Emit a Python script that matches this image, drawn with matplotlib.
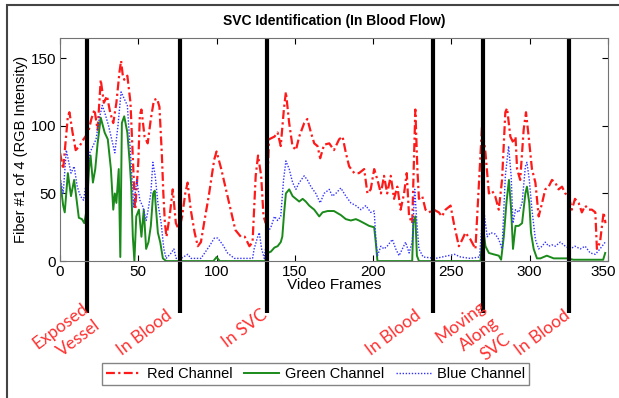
import matplotlib
matplotlib.use("Agg")
import matplotlib.pyplot as plt
import matplotlib.transforms as mtransforms
from matplotlib.patches import Rectangle

#red channel (frame, intensity)
red_x = [0, 2, 5, 6, 8, 10, 12.5, 15, 18, 20, 22, 24, 26, 28, 30, 32, 34, 36, 38, 39, 40, 41, 43, 45, 46, 47, 48, 50, 51, 52, 54, 56, 58, 60, 62, 63.5, 65, 66, 67, 68, 70, 72, 74, 76, 78, 80, 81.5, 83.5, 86, 88, 90, 92, 95, 98.5, 100, 103, 106, 109, 112, 115.5, 118, 121, 123, 125, 126.5, 128.5, 130, 131.5, 133.5, 137, 139, 141, 143, 144.3, 146.4, 148.5, 150.7, 152.8, 156, 158, 160.3, 162.4, 164.5, 166.2, 168.7, 172, 175, 178.3, 180.5, 182.6, 184.7, 188, 191, 194.3, 196.4, 198.5, 200.7, 202.8, 205, 207, 209, 211.3, 213.4, 215.5, 217.6, 219.8, 221.5, 223, 225, 227, 228.3, 229.3, 231.4, 233.5, 235.6, 238.8, 242, 244, 246.3, 249.5, 251.6, 254.8, 257, 259, 262.2, 265.4, 267.5, 269.6, 271.8, 274, 276, 278, 280.3, 282.4, 284.5, 285.6, 287.7, 289.8, 291, 292, 294, 296.2, 297.7, 299.4, 301.5, 303.7, 305.8, 308, 310, 312.2, 314.3, 316.4, 318.5, 320.7, 322.8, 325, 327, 329, 331.3, 333.4, 335.5, 337.7, 339.8, 342, 343, 345, 347.3, 348.5]
red_y = [80, 68, 107, 110, 95, 82, 85, 90, 95, 105, 112, 97, 134, 117, 122, 110, 102, 117, 140, 148, 138, 134, 137, 117, 90, 63, 38, 73, 108, 112, 92, 87, 105, 119, 120, 114, 80, 50, 28, 18, 33, 53, 28, 23, 33, 50, 58, 38, 21, 11, 14, 28, 48, 75, 81, 68, 53, 38, 23, 18, 18, 11, 14, 63, 78, 63, 33, 28, 90, 92, 95, 85, 112, 125, 102, 85, 82, 92, 102, 105, 95, 87, 85, 76, 86, 87, 82, 90, 92, 80, 70, 65, 65, 68, 50, 53, 68, 60, 50, 63, 50, 63, 46, 55, 38, 50, 65, 33, 28, 112, 68, 46, 48, 38, 36, 38, 36, 33, 38, 41, 28, 11, 16, 21, 16, 9, 55, 100, 80, 50, 52, 48, 38, 60, 110, 113, 92, 87, 92, 68, 60, 97, 110, 92, 68, 58, 33, 43, 53, 55, 60, 58, 53, 55, 50, 48, 38, 46, 43, 36, 41, 38, 38, 36, 9, 14, 36, 28]

#green channel
green_x = [0, 2, 3, 5, 7, 9, 10.5, 12, 14, 15.5, 17, 18.5, 19.5, 21, 22.5, 24, 26, 28.5, 30.5, 32.5, 34, 35, 36, 37.5, 38.5, 39.5, 41, 43, 44.5, 45.5, 46.5, 47.5, 48.7, 50.4, 52, 53.5, 55, 56.5, 58, 59.5, 60.5, 61, 62.5, 64, 65.7, 67.8, 98, 100, 102, 131, 132.6, 134.7, 137, 139, 141, 142, 143.2, 144.3, 146.4, 148.6, 150.7, 152.8, 155, 157, 159.2, 162.4, 165.6, 167.7, 171, 175, 179.4, 182.6, 185.8, 189, 191, 194.3, 197.5, 200.7, 201.7, 202.8, 225, 225.7, 227, 228, 229.3, 268.6, 269.6, 270.7, 271.8, 274, 277, 280.3, 281.8, 283.5, 285.2, 286.8, 288.2, 289.4, 291, 293, 295.2, 297.3, 298.3, 299.8, 300.9, 302.6, 304.7, 306.9, 311, 315.4, 319.6, 323.9, 328, 347, 348.3]
green_y = [60, 41, 36, 65, 48, 60, 46, 32, 31, 28, 38, 68, 78, 58, 68, 87, 106, 95, 90, 68, 38, 50, 43, 68, 3, 102, 107, 95, 73, 55, 18, 0, 33, 38, 18, 38, 9, 14, 26, 50, 52, 43, 21, 14, 2, 0, 0, 3, 0, 0, 6, 7, 10, 11, 14, 18, 36, 50, 53, 48, 46, 44, 46, 44, 41, 38, 33, 36, 37, 37, 34, 31, 30, 31, 30, 28, 26, 25, 14, 0, 0, 28, 33, 4, 0, 0, 14, 21, 11, 6, 5, 4, 1, 18, 43, 60, 38, 9, 26, 26, 28, 50, 55, 43, 21, 9, 2, 2, 4, 2, 2, 2, 1, 1, 6]

#blue channel
blue_x = [0, 2, 4, 7, 9, 11, 13, 15, 17, 19, 21, 23, 25, 27, 29, 31, 33, 35, 37, 39, 41, 43, 45, 47, 49, 51, 53, 55, 56, 58, 59.3, 60.8, 62.5, 64.6, 66.3, 67.8, 71, 72.7, 74.2, 77.4, 81.6, 83.7, 90, 95.4, 98.6, 100.7, 104, 107, 111.4, 115.6, 123, 124, 126.3, 127.3, 128.8, 130.5, 132.6, 134.7, 137, 139, 141, 142.8, 144.3, 146.4, 148.6, 150.7, 152.8, 156, 158, 160.3, 163.4, 166.2, 168.7, 172, 174, 176.2, 179.4, 182.6, 185.8, 189, 192.2, 195.4, 198.5, 200.7, 201.7, 202.8, 205, 207, 209, 212.3, 214.5, 216.6, 218.7, 220.8, 223, 225, 226.6, 228, 229.3, 232, 240, 248, 252, 256, 262, 268, 269.6, 270.7, 272.9, 275, 278, 280.3, 282.4, 284.5, 286.6, 288.2, 289.4, 291, 293, 295.2, 297.3, 298.3, 299.8, 301.5, 303.7, 305.8, 308, 310, 312.2, 314.3, 316.4, 319.6, 322.8, 326, 329, 332.4, 335.5, 338.7, 342, 345, 348.3]
blue_y = [62, 50, 82, 65, 70, 55, 48, 45, 60, 80, 85, 90, 105, 115, 108, 100, 90, 80, 100, 125, 120, 115, 80, 40, 60, 45, 40, 30, 36, 50, 73, 63, 43, 28, 9, 2, 6, 9, 2, 2, 5, 2, 2, 11, 17, 17, 12, 6, 2, 2, 2, 9, 18, 21, 9, 2, 21, 25, 33, 30, 33, 60, 74, 68, 58, 53, 58, 63, 60, 55, 50, 43, 50, 53, 48, 50, 54, 48, 43, 41, 38, 41, 36, 37, 18, 4, 11, 9, 11, 16, 9, 4, 9, 14, 6, 14, 53, 28, 9, 3, 2, 4, 5, 3, 2, 3, 28, 38, 18, 21, 20, 16, 9, 63, 85, 63, 28, 38, 36, 43, 70, 73, 60, 38, 16, 9, 11, 14, 11, 12, 11, 14, 11, 9, 11, 9, 11, 6, 5, 9, 14]

#frames where the catheter position changes, and the labels for each stage
events = [17.3, 76.5, 132, 238.4, 270.3, 325.1]
stage_labels = ["Exposed\nVessel", "In Blood", "In SVC", "In Blood", "Moving\nAlong\nSVC", "In Blood"]
stage_x = [4, 54, 118, 213, 264, 308]
stage_y = [-54, -53, -50, -53, -57, -53]

plt.rcParams['font.family'] = ['Liberation Sans', 'DejaVu Sans']

fig = plt.figure(figsize=(6.19, 3.98), dpi=100)
ax = fig.add_axes([0.097, 0.344, 0.885, 0.561])

ax.plot(red_x, red_y, color='#ff1a1a', linestyle=(0, (4, 1.5, 1, 1.5)), linewidth=1.6, label='Red Channel')
ax.plot(green_x, green_y, color='#1a8a1a', linestyle='-', linewidth=1.4, label='Green Channel')
ax.plot(blue_x, blue_y, color='#3333ff', linestyle=(0, (1, 1.2)), linewidth=1.0, label='Blue Channel')

ax.set_xlim(0, 350)
ax.set_ylim(0, 165)
ax.set_xticks([0, 50, 100, 150, 200, 250, 300, 350])
ax.set_yticks([0, 50, 100, 150])
ax.tick_params(direction='in', top=True, right=True, labelsize=11, length=4, pad=3)
for s in ax.spines.values():
    s.set_color('0.45')
    s.set_linewidth(0.8)

#nudge the last tick label so it stays inside the picture
last = ax.get_xticklabels()[-1]
last.set_transform(last.get_transform() + mtransforms.ScaledTranslation(-5 / 100, 0, fig.dpi_scale_trans))

#thick black markers, running below the axis
for e in events:
    ax.plot([e, e], [-38, 165], color='black', linewidth=3, clip_on=False, solid_capstyle='butt')

for lab, x, y in zip(stage_labels, stage_x, stage_y):
    ax.text(x, y, lab, color='#ff3030', fontsize=12.5, family=['Lato', 'DejaVu Sans'],
            rotation=37, rotation_mode='anchor', ha='center', va='center',
            multialignment='right', linespacing=1.35, clip_on=False)

ax.set_title('SVC Identification (In Blood Flow)', fontsize=10, fontweight='bold', pad=9)
ax.set_xlabel('Video Frames', fontsize=11, labelpad=-1)
ax.set_ylabel('Fiber #1 of 4 (RGB Intensity)', fontsize=10.5, labelpad=2)

fig.legend(loc='center', bbox_to_anchor=(0.51, 0.06), ncol=3, fontsize=10.5,
           frameon=True, fancybox=False, edgecolor='0.4', handlelength=2.4,
           columnspacing=0.8, handletextpad=0.4, borderpad=0.3)

#outer frame of the figure
fig.patches.append(Rectangle((7 / 619, -0.05), 1.2, 1 - 5 / 398 + 0.05, transform=fig.transFigure,
                             fill=False, edgecolor='#444444', linewidth=1.5))

fig.savefig('out.png', dpi=100)
